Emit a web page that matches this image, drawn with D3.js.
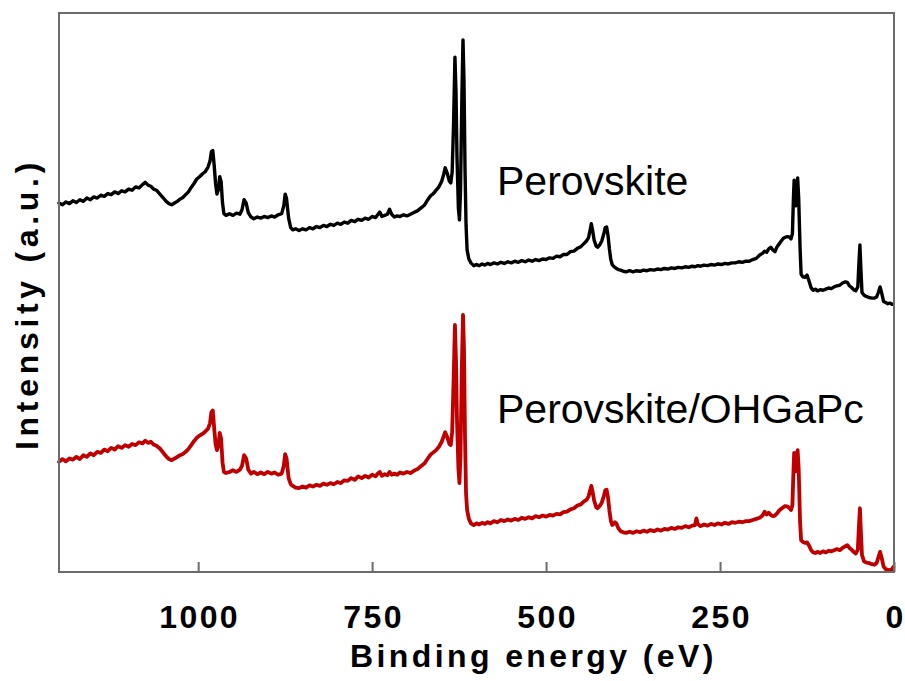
<!DOCTYPE html>
<html>
<head>
<meta charset="utf-8">
<script src="https://cdn.jsdelivr.net/npm/d3@7"></script>
<style>
  html, body { margin: 0; padding: 0; background: #fff; }
  svg { display: block; }
  text { font-family: "Liberation Sans", Arial, sans-serif; }
</style>
</head>
<body>
<svg id="chart" width="905" height="681"></svg>
<script>
// XPS survey spectra, binding energy in eV (descending scan)
const bindingEnergy = [
  1200,1195,1190,1185,1180,1175,1170,1165,1160,1155,1150,1145,1140,1135,1130,1125,1120,1115,1110,1105,
  1100,1095,1090,1085,1080,1076,1072,1068,1064,1060,1055,1050,1046,1042,1038,1034,1030,1026,1022,1018,
  1014,1010,1006,1002,998,994,990,986,983,981,979,977,975,973,971,969,967,965,963,960,
  955,950,945,940,937,934,931,928,924,920,915,910,905,900,895,890,885,880,877,875,
  873,870,867,864,860,855,850,845,840,835,830,825,820,815,810,805,800,795,790,785,
  780,775,770,765,760,755,750,745,742,739,736,732,728,725,722,718,714,710,705,700,
  695,690,685,680,675,670,666,662,658,654,650,647,645,642,639,637,635,633,631,629.5,
  628,626,624.5,623,621,619.4,618,616.5,615,613.5,611,608,604,600,596,592,588,584,580,575,
  570,565,560,555,550,545,540,535,530,525,520,515,510,505,500,495,490,485,480,475,
  470,465,460,455,450,446,442,439,437,435,433,431,428,426,423,420,417,415,413,411,
  409,407,405,403,401,399,396,393,389,385,380,375,370,365,360,355,350,345,340,335,
  330,325,320,315,310,305,300,295,290,286,284,282,278,273,268,263,258,253,248,243,
  238,233,228,223,218,213,208,203,198,193,189,186,183,180,177,174,171,168,165,162,
  159,156,153,150,148,146,144.5,143.5,142,141,140,138.5,137,135,133.5,131,128,125,122,119,
  116,113,110,106,102,98,94,90,86,82,78,74,70,67,64,61,58,55,52,50.5,
  49,47.5,46,43,40,36,32,28,25,22.5,20,17.5,15,12,9,6,3,1
];

// Intensity (arbitrary units), pristine perovskite film
const perovskite = [
  66.0,65.7,66.2,65.9,66.4,66.1,66.6,66.3,66.9,66.6,67.1,66.9,67.4,67.2,67.7,67.5,68.0,67.7,68.2,68.0,
  68.5,68.3,68.9,68.7,69.3,69.7,69.2,69.0,68.5,68.3,67.6,66.9,66.3,65.9,65.7,66.0,66.3,66.7,67.0,67.5,
  68.0,68.8,69.5,70.3,70.7,71.2,71.6,72.4,73.5,75.2,75.4,72.8,69.5,67.6,68.4,70.7,69.8,66.0,64.1,63.8,
  64.1,63.8,64.2,64.0,64.8,66.6,66.0,64.3,63.5,63.2,63.5,63.3,63.6,63.4,63.7,63.5,63.9,64.1,65.5,67.6,
  66.8,63.3,61.6,61.2,61.4,61.1,61.4,61.2,61.6,61.4,61.8,61.6,62.0,61.8,62.2,62.0,62.4,62.2,62.6,62.4,
  62.9,62.7,63.1,62.9,63.3,63.1,63.6,63.4,63.9,64.4,63.6,63.8,64.0,64.9,64.0,63.5,63.7,63.6,63.9,63.7,
  64.0,64.3,64.6,65.1,65.6,66.6,67.3,67.7,68.3,68.9,69.9,71.2,72.3,71.3,69.9,69.6,71.5,80.0,92.1,86.0,
  74.0,65.0,63.0,68.0,85.0,95.2,88.0,72.0,62.0,57.6,56.0,55.3,54.8,55.0,54.8,55.1,54.9,55.2,55.0,55.3,
  55.1,55.4,55.2,55.5,55.3,55.6,55.4,55.7,55.5,55.8,55.6,55.9,55.7,56.0,55.9,56.2,56.1,56.5,56.4,56.8,
  56.8,57.3,57.4,57.9,58.2,58.7,59.2,59.8,61.0,62.3,61.0,59.4,58.3,58.1,58.5,59.2,60.5,61.6,61.7,60.2,
  57.8,55.9,55.0,54.7,54.5,54.3,54.1,54.0,53.8,53.7,53.9,53.7,53.9,53.8,54.0,53.9,54.1,54.0,54.2,54.1,
  54.3,54.2,54.4,54.3,54.5,54.4,54.6,54.5,54.7,54.6,54.7,54.8,54.7,54.9,54.8,55.0,54.9,55.1,55.0,55.2,
  55.1,55.3,55.3,55.5,55.4,55.6,55.6,55.9,56.1,56.7,57.0,57.4,57.2,57.8,58.1,57.6,57.3,58.2,58.7,59.2,
  59.7,59.9,60.0,59.9,59.6,60.5,67.0,70.1,67.0,65.5,67.0,70.5,67.0,58.0,53.3,52.8,52.7,53.1,52.0,50.8,
  50.4,50.6,50.3,50.5,50.4,50.6,50.8,50.7,51.0,51.2,51.3,51.7,51.9,51.8,51.2,50.9,50.5,50.3,51.0,55.0,
  58.5,54.0,50.0,49.5,49.3,49.1,49.0,49.0,49.2,50.0,51.0,49.8,48.4,48.2,48.0,48.1,47.9,47.9
];

// Intensity (arbitrary units), perovskite film with OHGaPc layer
const perovskiteOHGaPc = [
  19.7,20.2,19.8,20.3,20.1,20.6,20.2,20.9,20.6,21.2,20.9,21.5,21.3,21.9,21.6,22.2,21.9,22.5,22.2,22.7,
  22.4,22.9,22.7,23.2,23.0,23.5,23.1,23.3,22.8,22.6,22.1,21.3,20.7,20.2,20.0,20.3,20.6,20.9,21.1,21.5,
  22.0,22.7,23.4,24.0,24.4,24.7,25.1,25.6,26.6,28.6,28.9,25.8,22.9,21.8,22.6,24.9,23.8,19.6,17.9,17.7,
  17.9,18.2,17.9,18.3,19.0,20.9,20.3,18.3,17.6,17.9,17.5,17.8,17.5,17.9,17.6,17.8,17.4,17.6,19.0,21.1,
  20.3,16.8,15.7,15.4,15.1,15.0,15.3,15.1,15.5,15.3,15.6,15.4,15.8,15.6,15.9,15.7,16.1,15.9,16.4,16.3,
  16.8,16.5,17.1,16.8,17.2,16.9,17.4,17.1,17.6,17.9,17.2,17.5,17.3,17.9,17.4,17.6,17.4,17.8,17.6,17.9,
  17.7,18.1,18.4,18.9,19.4,20.3,21.0,21.4,21.8,22.4,23.3,24.3,25.0,24.1,22.9,22.7,25.0,34.0,44.2,38.0,
  27.0,18.5,15.9,21.0,37.0,46.0,40.0,24.0,14.0,11.1,9.5,8.7,8.4,8.7,8.5,8.8,8.6,8.9,8.7,9.1,
  8.9,9.3,9.1,9.4,9.2,9.5,9.3,9.7,9.5,9.8,9.6,10.0,9.8,10.1,9.9,10.2,10.1,10.4,10.3,10.7,
  10.8,11.2,11.4,11.9,12.1,12.6,12.9,13.5,14.5,15.4,14.3,12.8,11.6,11.4,11.8,12.4,13.6,14.6,14.7,13.3,
  11.0,9.2,8.4,8.6,8.9,8.7,7.8,7.3,7.1,7.0,7.2,7.0,7.3,7.1,7.4,7.2,7.5,7.3,7.6,7.4,
  7.7,7.6,7.9,7.7,8.0,7.9,8.2,8.0,8.3,8.4,9.6,8.6,8.2,8.5,8.3,8.6,8.4,8.7,8.5,8.8,
  8.6,8.9,8.8,9.0,8.9,9.1,9.1,9.3,9.5,9.7,10.1,10.8,10.3,10.6,10.2,10.0,10.1,10.5,11.0,11.3,
  11.6,11.8,11.7,11.4,11.1,12.0,18.0,21.3,19.0,18.0,19.5,21.8,18.5,9.0,5.7,5.4,5.2,5.3,4.7,3.9,
  3.5,3.4,3.6,3.4,3.7,3.5,3.8,3.7,3.9,4.1,3.9,4.3,4.6,4.8,4.3,4.0,3.6,3.3,4.0,8.0,
  11.4,7.0,3.0,1.9,1.7,1.6,1.4,1.3,1.6,2.6,3.6,2.4,1.0,0.5,0.4,0.3,0.5,0.9
];

const xTickValues = [1000, 750, 500, 250, 0];
const seriesNames = ["Perovskite", "Perovskite/OHGaPc"];
const seriesColors = ["#000000", "#c00000"];

const svg = d3.select("#chart");
const plotLeft = 59, plotRight = 894, plotTop = 13, plotBottom = 572;

const x = d3.scaleLinear().domain([1200, 0]).range([plotLeft, plotRight]);
const y = d3.scaleLinear().domain([0, 100]).range([plotBottom, plotTop]);

const line = d3.line()
  .x(d => x(d[0]))
  .y(d => y(d[1]))
  .curve(d3.curveLinear);

const series = [perovskite, perovskiteOHGaPc].map(vals =>
  bindingEnergy.map((e, i) => [e, vals[i]]));

// spectra
svg.append("g")
  .selectAll("path")
  .data(series)
  .join("path")
  .attr("d", line)
  .attr("fill", "none")
  .attr("stroke", (d, i) => seriesColors[i])
  .attr("stroke-width", (d, i) => i === 0 ? 3.4 : 3.8)
  .attr("stroke-linejoin", "round")
  .attr("stroke-linecap", "round");

// plot frame
svg.append("rect")
  .attr("x", plotLeft).attr("y", plotTop)
  .attr("width", plotRight - plotLeft).attr("height", plotBottom - plotTop)
  .attr("fill", "none")
  .attr("stroke", "#6b6b6b")
  .attr("stroke-width", 2);

// bottom axis with inward ticks
const xAxis = d3.axisBottom(x)
  .tickValues(xTickValues)
  .tickSizeInner(-10)
  .tickSizeOuter(0)
  .tickPadding(24)
  .tickFormat(d3.format("d"));

const gx = svg.append("g")
  .attr("transform", `translate(0,${plotBottom})`)
  .call(xAxis);
gx.select(".domain").remove();
gx.selectAll(".tick line").attr("stroke", "#6b6b6b").attr("stroke-width", 2);
gx.selectAll(".tick text")
  .attr("y", 56)
  .attr("dy", null)
  .attr("dx", 1)
  .attr("fill", "#000")
  .style("font-family", '"Liberation Sans", Arial, sans-serif')
  .style("font-size", "32px")
  .style("font-weight", "bold")
  .style("letter-spacing", "2.4px");

// axis titles
svg.append("text")
  .attr("x", 350)
  .attr("y", 667)
  .attr("fill", "#000")
  .style("font-size", "32px")
  .style("font-weight", "bold")
  .style("letter-spacing", "3.4px")
  .text("Binding energy (eV)");

svg.append("text")
  .attr("transform", "translate(38,304) rotate(-90)")
  .attr("text-anchor", "middle")
  .attr("fill", "#000")
  .style("font-size", "32px")
  .style("font-weight", "bold")
  .style("letter-spacing", "4.7px")
  .text("Intensity (a.u.)");

// series labels
const labelY = [195, 423];
svg.append("g")
  .selectAll("text")
  .data(seriesNames)
  .join("text")
  .attr("x", 497)
  .attr("y", (d, i) => labelY[i])
  .attr("fill", "#000")
  .style("font-size", "41px")
  .text(d => d);
</script>
</body>
</html>
